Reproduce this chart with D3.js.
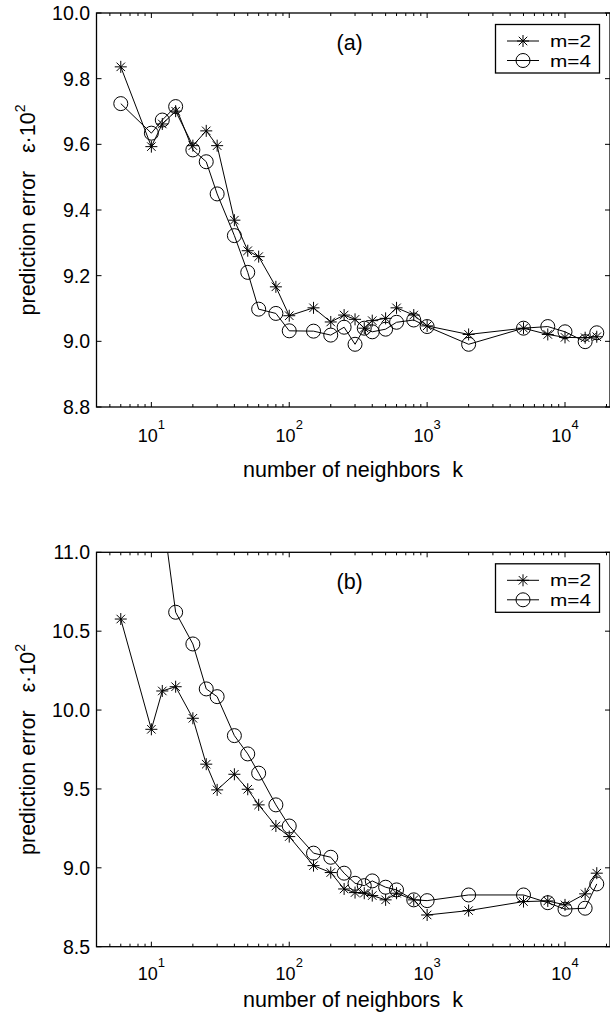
<!DOCTYPE html>
<html><head><meta charset="utf-8">
<script src="https://cdn.jsdelivr.net/npm/d3@7"></script>
<style>html,body{margin:0;padding:0;background:#fff}svg{display:block}text{white-space:pre}</style>
</head><body>
<script>
// ---- data ----
const kValues = [6,10,12,15,20,25,30,40,50,60,80,100,150,200,250,300,350,400,500,600,800,1000,2000,5000,7500,10000,14000,17000];
const aM2 = [9.836,9.593,9.662,9.701,9.596,9.641,9.596,9.369,9.276,9.258,9.166,9.078,9.102,9.059,9.080,9.067,9.040,9.063,9.070,9.102,9.080,9.047,9.021,9.040,9.021,9.012,9.011,9.014];
const aM4 = [9.724,9.634,9.674,9.715,9.583,9.547,9.449,9.322,9.210,9.098,9.085,9.032,9.031,9.019,9.043,8.991,9.040,9.029,9.037,9.058,9.065,9.045,8.991,9.040,9.045,9.029,8.999,9.026];
const bM2 = [10.577,9.878,10.121,10.148,9.948,9.657,9.494,9.593,9.498,9.399,9.265,9.198,9.014,8.970,8.866,8.843,8.839,8.824,8.797,8.839,8.797,8.701,8.729,8.786,8.790,8.765,8.835,8.966];
const bM4 = [11.8,11.5,11.26,10.620,10.419,10.134,10.085,9.838,9.722,9.600,9.399,9.265,9.093,9.067,8.966,8.902,8.887,8.917,8.877,8.860,8.797,8.792,8.828,8.828,8.779,8.738,8.744,8.898];
const seriesNames = ["m=2","m=4"];
const xDomain = [4, 21200];
const xMajorTicks = [10,100,1000,10000];
const yTicksA = [8.8,9.0,9.2,9.4,9.6,9.8,10.0];
const yTicksB = [8.5,9.0,9.5,10.0,10.5,11.0];
const panelLabels = ["(a)","(b)"];
const xLabel = "number of neighbors  k";
const yLabel = "prediction error   \u03b5\u00b710";

const W = 610, H = 1016;
const svg = d3.select("body").append("svg").attr("width",W).attr("height",H)
  .style("font-family","'Liberation Sans', Arial, sans-serif");

const left = 96.5, right = 610;
const x = d3.scaleLog().domain(xDomain).range([left, right]);

const minorTicks = [];
for (let d=0; d<=4; d++) for (let m=1; m<=9; m++) {
  const v = m*Math.pow(10,d);
  if (v>=xDomain[0] && v<=xDomain[1]) minorTicks.push(v);
}

function starPath(s){
  const d = s*0.7071;
  return `M0,${-s}L0,${s}M${-s},0L${s},0M${-d},${-d}L${d},${d}M${-d},${d}L${d},${-d}`;
}

function panel(idx, top, bottom, yDomain, yTicks, m2, m4, fmt, xTickBase, xLabelY){
  const y = d3.scaleLinear().domain(yDomain).range([bottom, top]);
  const g = svg.append("g");
  const clipId = "clip"+idx;
  g.append("clipPath").attr("id",clipId).append("rect")
    .attr("x",left).attr("y",top).attr("width",right-left).attr("height",bottom-top);

  g.append("rect").attr("x",left).attr("y",top).attr("width",right-left).attr("height",bottom-top)
    .attr("fill","none").attr("stroke","#000").attr("stroke-width",1.3);

  minorTicks.forEach(v=>{
    const major = xMajorTicks.includes(v);
    const len = major?5:3;
    const xx = x(v);
    g.append("line").attr("x1",xx).attr("x2",xx).attr("y1",bottom).attr("y2",bottom-len).attr("stroke","#000").attr("stroke-width",1);
    g.append("line").attr("x1",xx).attr("x2",xx).attr("y1",top).attr("y2",top+len).attr("stroke","#000").attr("stroke-width",1);
  });
  xMajorTicks.forEach(v=>{
    const t = g.append("text").attr("x",x(v)).attr("y",xTickBase).attr("text-anchor","middle")
      .attr("font-size",18);
    t.append("tspan").text("10");
    t.append("tspan").attr("dy",-13).attr("font-size",13).text(String(Math.round(Math.log10(v))));
  });
  yTicks.forEach(v=>{
    const yy = y(v);
    g.append("line").attr("x1",left).attr("x2",left+5).attr("y1",yy).attr("y2",yy).attr("stroke","#000");
    g.append("line").attr("x1",right-5).attr("x2",right).attr("y1",yy).attr("y2",yy).attr("stroke","#000");
    g.append("text").attr("x",90).attr("y",yy+7).attr("text-anchor","end").attr("font-size",19.5).text(fmt(v));
  });

  const line = d3.line().x((d,i)=>x(kValues[i])).y(d=>y(d));
  const plot = g.append("g").attr("clip-path",`url(#${clipId})`);
  plot.append("path").datum(m2).attr("d",line).attr("fill","none").attr("stroke","#000").attr("stroke-width",1);
  plot.append("path").datum(m4).attr("d",line).attr("fill","none").attr("stroke","#000").attr("stroke-width",1);
  plot.selectAll("path.star").data(m2).enter().append("path").attr("class","star")
    .attr("transform",(d,i)=>`translate(${x(kValues[i])},${y(d)})`)
    .attr("d",starPath(6)).attr("stroke","#000").attr("stroke-width",1).attr("fill","none");
  plot.selectAll("circle.c").data(m4).enter().append("circle").attr("class","c")
    .attr("cx",(d,i)=>x(kValues[i])).attr("cy",d=>y(d)).attr("r",7)
    .attr("fill","none").attr("stroke","#000").attr("stroke-width",1);

  g.append("text").attr("x",336.5).attr("y",top+37).attr("font-size",21.5).text(panelLabels[idx]);

  const lx0 = 495.5, ly0 = top+11.5;
  g.append("rect").attr("x",lx0).attr("y",ly0).attr("width",104).attr("height",48.5)
    .attr("fill","#fff").attr("stroke","#000").attr("stroke-width",1.3);
  [0,1].forEach(j=>{
    const ry = ly0 + 16.5 + j*19.5;
    g.append("line").attr("x1",507).attr("x2",539).attr("y1",ry).attr("y2",ry).attr("stroke","#000");
    if (j===0) g.append("path").attr("transform",`translate(523,${ry})`).attr("d",starPath(6)).attr("stroke","#000").attr("fill","none");
    else g.append("circle").attr("cx",523).attr("cy",ry).attr("r",7).attr("fill","none").attr("stroke","#000");
    g.append("text").attr("x",550).attr("y",ry+6).attr("font-size",16.5)
      .attr("textLength",41).attr("lengthAdjust","spacingAndGlyphs").text(seriesNames[j]);
  });

  const yl = g.append("text").attr("transform",`translate(35,${(top+bottom)/2}) rotate(-90)`)
    .attr("text-anchor","middle").attr("font-size",21.5);
  yl.append("tspan").text(yLabel);
  yl.append("tspan").attr("dy",-10).attr("font-size",14).text("2");
  g.append("text").attr("x",353).attr("y",xLabelY).attr("text-anchor","middle").attr("font-size",21.5).text(xLabel);
}

panel(0, 13, 407, [8.8,10.0], yTicksA, aM2, aM4, d3.format(".1f"), 441.7, 477);
panel(1, 552.3, 946.7, [8.5,11.0], yTicksB, bM2, bM4, d3.format(".1f"), 980, 1007);
</script>
</body></html>
